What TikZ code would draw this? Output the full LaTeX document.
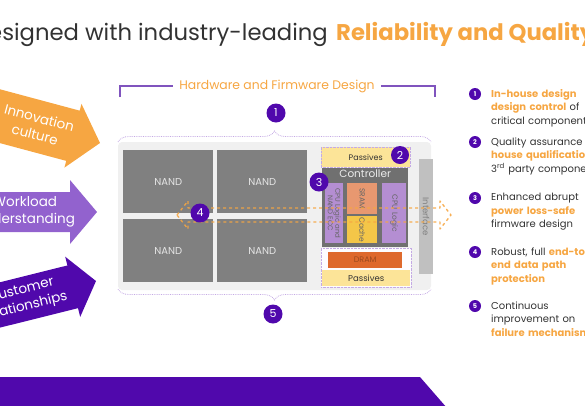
\documentclass[tikz,border=0pt]{standalone}
\usepackage{fontspec}
\setmainfont{Poppins}
\usetikzlibrary{calc}
\usetikzlibrary{decorations.pathreplacing}
\usepackage{xcolor}
\definecolor{sorange}{RGB}{246,166,66}
\definecolor{svio}{RGB}{146,98,206}
\definecolor{sdeep}{RGB}{80,8,172}
\definecolor{sline}{RGB}{128,84,190}
\definecolor{slav}{RGB}{196,170,228}
\definecolor{sboard}{RGB}{240,240,240}
\definecolor{snand}{RGB}{128,128,128}
\definecolor{sctrl}{RGB}{112,112,112}
\definecolor{scpu}{RGB}{180,142,210}
\definecolor{ssram}{RGB}{232,152,112}
\definecolor{scache}{RGB}{244,198,72}
\definecolor{sdram}{RGB}{222,104,44}
\definecolor{spass}{RGB}{252,228,152}
\definecolor{sintf}{RGB}{192,192,192}
\definecolor{stext}{RGB}{50,50,50}
\newcommand{\hl}[1]{{\bfseries\color{sorange}#1}}

\begin{document}
\begin{tikzpicture}[x=1pt,y=-1pt,
 num/.style={circle,fill=sdeep,text=white,inner sep=0,minimum size=19pt,font=\fontsize{11}{11}\selectfont},
 bul/.style={circle,fill=sdeep,text=white,inner sep=0,minimum size=12pt,font=\fontsize{6.5}{6.5}\selectfont\bfseries},
 chip/.style={inner sep=0,anchor=north west},
 vlab/.style={rotate=-90,align=center,inner sep=0,font=\fontsize{7.5}{8}\selectfont},
 arrtext/.style={transform shape,text=white,align=center,inner sep=0,font=\fontsize{13.5}{17}\selectfont}]
\useasboundingbox (0,0) rectangle (585,405);
% title
\node[anchor=base east,inner sep=0,text=stext,font=\fontsize{22.7}{22.7}\selectfont] (ttl) at (328,40) {Designed with industry-leading};
\node[anchor=base west,inner sep=0,xshift=8,font=\fontsize{22.7}{22.7}\selectfont\bfseries,text=sorange] (ttlb) at (ttl.base east) {Reliability and Quality};
% left arrows
\begin{scope}[shift={(100,143)},rotate=-15]
 \fill[sorange] (-150,-26) -- (-28,-26) -- (-28,-33) -- (0,0) -- (-28,33) -- (-28,26) -- (-150,26) -- cycle;
 \node[arrtext] (inno) at (-65,0) {Innovation\\culture};
\end{scope}
\begin{scope}[shift={(97,212)}]
 \fill[svio] (-150,-20) -- (-27,-20) -- (-27,-32) -- (0,0) -- (-27,32) -- (-27,20) -- (-150,20) -- cycle;
 \node[arrtext] (work) at (-72,0) {Workload\\understanding};
\end{scope}
\begin{scope}[shift={(96,281)},rotate=14]
 \fill[sdeep] (-150,-22) -- (-24,-22) -- (-24,-31) -- (0,0) -- (-24,31) -- (-24,22) -- (-150,22) -- cycle;
 \node[arrtext] (cust) at (-75,0) {Customer\\relationships};
\end{scope}
% bracket
\node[text=sorange,inner sep=6,font=\fontsize{12.4}{12.4}\selectfont] (hw) at (277,86) {Hardware and Firmware Design};
\draw[sline,line width=1.4] (120,97) |- (hw.west) (hw.east) -| (435,97);
% board
\fill[sboard,rounded corners=4] (118,142) rectangle (431,290);
\draw[slav,densely dotted,line width=0.8,decorate,decoration={brace,amplitude=11}] (118,142) -- (431,142);
\draw[slav,densely dotted,line width=0.8,decorate,decoration={brace,amplitude=11,mirror}] (118,289) -- (431,289);
\foreach \x/\y/\n in {123/150/1,217/150/2,123/219/3,217/219/4}
 \node[chip,fill=snand,minimum width=90,minimum height=63,text=white!90!black,font=\fontsize{10}{10}\selectfont] (nand\n) at (\x,\y) {NAND};
% controller side
\node[chip,fill=spass,draw=slav,densely dotted,minimum width=89,minimum height=20,text=stext,font=\fontsize{8}{8}\selectfont] (pasa) at (321,147) {Passives};
\node[chip,fill=sctrl,minimum width=86,minimum height=79] (ctrl) at (322,168) {};
\node[below=1,inner sep=1,text=white!92!black,font=\fontsize{10.5}{10.5}\selectfont] (ctl) at (ctrl.north) {Controller};
\node[chip,fill=scpu,minimum width=18,minimum height=60] (cpua) at (325,183) {};
\node[vlab,text=black!60,font=\fontsize{7}{7.5}\selectfont] at (cpua.center) {CPU Logic and\\NAND ECC};
\node[chip,fill=ssram,minimum width=30,minimum height=31] (sram) at (347,183) {};
\node[vlab,text=black!60] at (sram.center) {SRAM};
\node[chip,fill=scache,minimum width=30,minimum height=27] (cache) at (347,216) {};
\node[vlab,text=black!60] at (cache.center) {Cache};
\node[chip,fill=scpu,minimum width=24,minimum height=60] (cpub) at (382,183) {};
\node[vlab,text=black!60] at (cpub.center) {CPU Logic};
\node[chip,fill=white!96!slav,draw=slav,densely dotted,minimum width=90,minimum height=39] (mem) at (321,248) {};
\node[chip,fill=sdram,minimum width=74,minimum height=16,text=sdram!70!black,font=\fontsize{8}{8}\selectfont] (dram) at (328,252) {DRAM};
\node[chip,fill=spass,minimum width=88,minimum height=16,text=stext,font=\fontsize{8.5}{8.5}\selectfont] (pasb) at (322,270) {Passives};
\node[chip,fill=sintf,minimum width=14,minimum height=115] (intf) at (419,159) {};
\node[vlab,text=black!50,font=\fontsize{8.5}{8.5}\selectfont] at (intf.center) {Interface};
% data path
\draw[sorange,opacity=.9,dashed,line width=1.3,line join=round] (177,215) -- (188,201) -- (188,208) -- (440,208) -- (440,201) -- (451,215) -- (440,229) -- (440,222) -- (188,222) -- (188,229) -- cycle;
% numbers
\node[num] (n1) at (276,113) {1};
\node[num,minimum size=18] (n2) at (400,155) {2};
\node[num] (n3) at (319,182) {3};
\node[num] (n4) at (200,213) {4};
\node[num] (n5) at (273,314) {5};
% list
\foreach \i/\y/\txt in {1/94/{\hl{In-house design}\\\hl{design control} of\\critical components},
  2/142/{Quality assurance\\\hl{house qualification}\\3\textsuperscript{rd} party components},
  3/198/{Enhanced abrupt\\\hl{power loss-safe}\\firmware design},
  4/252/{Robust, full \hl{end-to-}\\\hl{end data path}\\\hl{protection}},
  5/306/{Continuous\\improvement on\\\hl{failure mechanisms}}} {
 \node[bul] (b\i) at (475,\y) {\i};
 \node[anchor=north west,inner sep=0,text width=150,align=left,text=stext,font=\fontsize{10}{13.5}\selectfont] (t\i) at (491,\y-4.8) {\txt};
}
% band
\fill[sdeep] (0,377) -- (420,377) -- (447,408) -- (-2,408) -- cycle;
\end{tikzpicture}
\end{document}
